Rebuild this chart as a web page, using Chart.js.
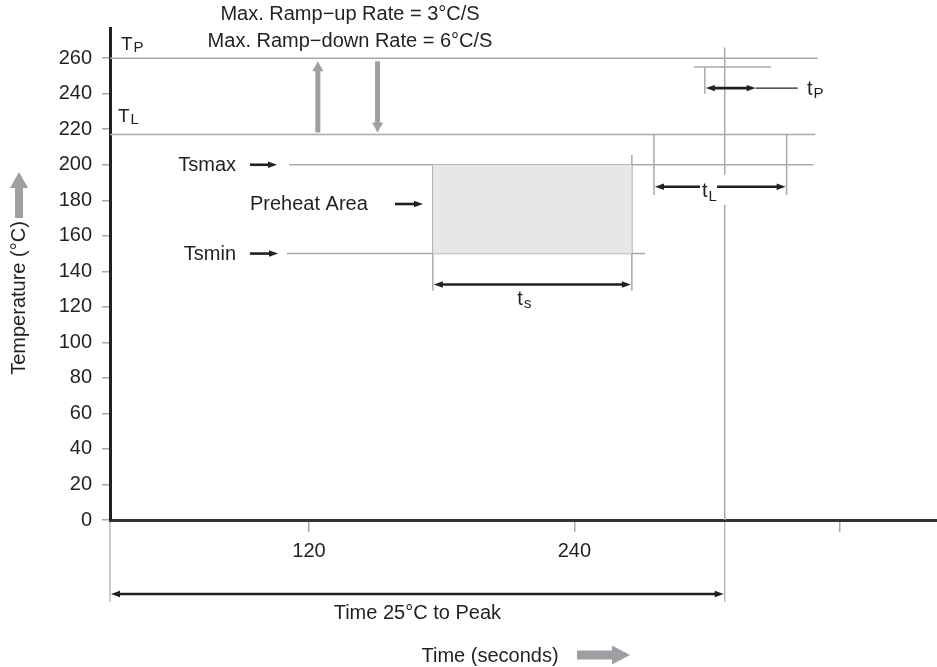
<!DOCTYPE html>
<html><head><meta charset="utf-8">
<script src="https://cdn.jsdelivr.net/npm/chart.js@4.4.1/dist/chart.umd.min.js"></script>
<style>html,body{margin:0;padding:0;background:#fff;}#wrap{width:937px;height:667px;}</style>
</head><body><div id="wrap"><canvas id="c" width="937" height="667"></canvas></div>
<script>
// ---- data ----
const timeTicks = [120, 240, 360];
const timeTickLabels = ['120', '240', ''];
const tempTicks = [0, 20, 40, 60, 80, 100, 120, 140, 160, 180, 200, 220, 240, 260];
const levelNames = ['TP', 'TL', 'Tsmax', 'Tsmin'];
const levelTemps = [260, 217, 200, 150];
const tpBandTemp = 255;
const preheatWindow = [176, 266];   // ts
const liquidusWindow = [276, 336];  // tL
const peakWindow = [299, 322];      // tp
const peakTime = 308;
const startTime = 30;
const endTime = 404;
const tempMax = 277;
const rampRates = [3, 6];

// ---- styling ----
const FONT = '"Liberation Sans", Arial, Helvetica, sans-serif';
const GRAY = '#a7a9ac';
const INK = '#231f20';
const BLOCK = '#9d9fa2';

const [TP, TL, TSMAX, TSMIN] = levelTemps;
function seg(pts, extra) {
  return Object.assign({
    data: pts.map(p => ({x: p[0], y: p[1]})),
    borderColor: GRAY, borderWidth: 1.5, pointRadius: 0, fill: false,
    tension: 0, clip: false
  }, extra || {});
}
const datasets = [
  seg([[preheatWindow[0], TSMAX], [preheatWindow[1], TSMAX]],
      {borderColor: 'rgba(0,0,0,0)', fill: {value: TSMIN}, backgroundColor: '#e6e7e8'}),
  seg([[startTime, TP], [350, TP]]),
  seg([[startTime, TL], [349, TL]]),
  seg([[111, TSMAX], [348, TSMAX]]),
  seg([[110, TSMIN], [272, TSMIN]]),
  seg([[294, tpBandTemp], [329, tpBandTemp]]),
  seg([[preheatWindow[0], TSMAX], [preheatWindow[0], 129]]),
  seg([[preheatWindow[1], 205.5], [preheatWindow[1], 129]]),
  seg([[liquidusWindow[0], TL], [liquidusWindow[0], 183]]),
  seg([[liquidusWindow[1], TL], [liquidusWindow[1], 183]]),
  seg([[peakWindow[0], tpBandTemp], [peakWindow[0], 240]]),
  seg([[peakTime, 266], [peakTime, 0]])
];

// ---- drawing helpers ----
function line(ctx, x1, y1, x2, y2, color, w) {
  ctx.beginPath(); ctx.moveTo(x1, y1); ctx.lineTo(x2, y2);
  ctx.strokeStyle = color; ctx.lineWidth = w; ctx.stroke();
}
function head(ctx, x, y, ang, len, hw, color) {
  ctx.save(); ctx.translate(x, y); ctx.rotate(ang);
  ctx.beginPath(); ctx.moveTo(0, 0); ctx.lineTo(-len, -hw); ctx.lineTo(-len, hw); ctx.closePath();
  ctx.fillStyle = color; ctx.fill(); ctx.restore();
}
function hArrow(ctx, x1, x2, y, leftHead, rightHead) {
  const L = 9, H = 3.2;
  line(ctx, x1 + (leftHead ? L - 1 : 0), y, x2 - (rightHead ? L - 1 : 0), y, INK, 2.6);
  if (leftHead) head(ctx, x1, y, Math.PI, L, H, INK);
  if (rightHead) head(ctx, x2, y, 0, L, H, INK);
}
function blockArrow(ctx, x1, y1, x2, y2, shaft, hw, hl, color) {
  const ang = Math.atan2(y2 - y1, x2 - x1);
  const len = Math.hypot(x2 - x1, y2 - y1);
  ctx.save(); ctx.translate(x1, y1); ctx.rotate(ang);
  ctx.beginPath();
  ctx.moveTo(0, -shaft / 2); ctx.lineTo(len - hl, -shaft / 2); ctx.lineTo(len - hl, -hw / 2);
  ctx.lineTo(len, 0); ctx.lineTo(len - hl, hw / 2); ctx.lineTo(len - hl, shaft / 2); ctx.lineTo(0, shaft / 2);
  ctx.closePath(); ctx.fillStyle = color; ctx.fill(); ctx.restore();
}
function txt(ctx, s, x, y, size, align, base) {
  ctx.font = size + 'px ' + FONT; ctx.fillStyle = INK;
  ctx.textAlign = align || 'left'; ctx.textBaseline = base || 'alphabetic';
  ctx.fillText(s, x, y);
}
function subTxt(ctx, main, sub, x, y, size, subSize, drop) {
  ctx.font = size + 'px ' + FONT; ctx.fillStyle = INK;
  ctx.textAlign = 'left'; ctx.textBaseline = 'alphabetic';
  ctx.fillText(main, x, y);
  const w = ctx.measureText(main).width;
  ctx.font = subSize + 'px ' + FONT;
  ctx.fillText(sub, x + w + 1, y + drop);
  return w + 1 + ctx.measureText(sub).width;
}

const annot = {
  id: 'annot',
  afterDatasetsDraw(chart) {
    const {ctx, scales: {x, y}} = chart;
    const X = v => x.getPixelForValue(v), Y = v => y.getPixelForValue(v);
    const y0 = Y(0);
    ctx.save();

    // below-axis dimension: Time 25°C to Peak
    line(ctx, X(startTime), y0 + 2, X(startTime), y0 + 82, GRAY, 1.2);
    line(ctx, X(peakTime), y0 + 2, X(peakTime), y0 + 82, GRAY, 1.2);
    hArrow(ctx, X(startTime) + 1, X(peakTime) - 1, y0 + 74, true, true);
    txt(ctx, 'Time 25\u00B0C to Peak', (X(startTime) + X(peakTime)) / 2, y0 + 93, 20, 'center', 'middle');

    // axis titles
    txt(ctx, 'Time (seconds)', 490, 656, 20, 'center', 'middle');
    blockArrow(ctx, 577, 655, 630, 655, 9, 19, 18, BLOCK);
    ctx.save(); ctx.translate(19, 298); ctx.rotate(-Math.PI / 2);
    txt(ctx, 'Temperature (\u00B0C)', 0, 0, 20, 'center', 'middle');
    ctx.restore();
    blockArrow(ctx, 19, 218, 19, 172, 8, 18, 16, BLOCK);

    // ramp rate arrows + text
    blockArrow(ctx, X(124), Y(TL) - 2, X(124), Y(TP) + 3, 5, 11, 10, BLOCK);
    blockArrow(ctx, X(151), Y(TP) + 3, X(151), Y(TL) - 2, 5, 11, 10, BLOCK);
    txt(ctx, 'Max. Ramp\u2212up Rate = ' + rampRates[0] + '\u00B0C/S', 350, 20, 20, 'center');
    txt(ctx, 'Max. Ramp\u2212down Rate = ' + rampRates[1] + '\u00B0C/S', 350, 47, 20, 'center');

    // level labels
    subTxt(ctx, 'T', levelNames[0].slice(1), X(startTime) + 11, Y(TP) - 8, 19, 15, 2);
    subTxt(ctx, 'T', levelNames[1].slice(1), X(startTime) + 8, Y(TL) - 13, 19, 15, 2);
    txt(ctx, levelNames[2], 236, Y(TSMAX) + 1, 20, 'right', 'middle');
    hArrow(ctx, 250, 277, Y(TSMAX), false, true);
    txt(ctx, levelNames[3], 236, Y(TSMIN) + 1, 20, 'right', 'middle');
    hArrow(ctx, 250, 278, Y(TSMIN), false, true);
    txt(ctx, 'Preheat Area', 250, 204, 20, 'left', 'middle');
    hArrow(ctx, 395, 423, 204, false, true);

    // ts
    const ts0 = X(preheatWindow[0]), ts1 = X(preheatWindow[1]);
    hArrow(ctx, ts0 + 1, ts1 - 1, Y(TSMIN) + 31, true, true);
    subTxt(ctx, 't', 's', (ts0 + ts1) / 2 - 15, Y(TSMIN) + 51, 20, 15, 3);

    // tL
    const tl0 = X(liquidusWindow[0]), tl1 = X(liquidusWindow[1]);
    const ya = Y(TSMAX) + 22;
    ctx.fillStyle = '#fff'; ctx.fillRect(699, ya - 12, 28, 30);
    hArrow(ctx, tl0 + 1, 700, ya, true, false);
    hArrow(ctx, 717, tl1 - 1, ya, false, true);
    subTxt(ctx, 't', 'L', 702, ya + 10, 20, 15, 4);

    // tp
    const tp0 = X(peakWindow[0]), tp1 = X(peakWindow[1]);
    const yp = Y(tpBandTemp) + 21;
    hArrow(ctx, tp0 + 1, tp1, yp, true, true);
    line(ctx, tp1, yp, X(341), yp, INK, 1.3);
    subTxt(ctx, 't', 'P', 807, yp + 7, 20, 15, 3);

    ctx.restore();
  }
};

new Chart(document.getElementById('c'), {
  type: 'line',
  data: {datasets},
  options: {
    responsive: false, animation: false,
    layout: {padding: {top: 28, right: 0, left: 0, bottom: 0}},
    plugins: {legend: {display: false}, tooltip: {enabled: false}},
    scales: {
      x: {
        type: 'linear', min: startTime, max: endTime,
        afterBuildTicks: s => { s.ticks = timeTicks.map(v => ({value: v})); },
        afterFit: s => { s.height = 147; },
        ticks: {callback: (v, i) => timeTickLabels[i], font: {family: FONT, size: 20}, color: INK, padding: 7, maxRotation: 0, autoSkip: false},
        grid: {drawOnChartArea: false, drawTicks: true, tickLength: 12, color: GRAY, lineWidth: 1.5},
        border: {display: true, color: '#333', width: 3}
      },
      y: {
        type: 'linear', min: 0, max: tempMax,
        afterBuildTicks: s => { s.ticks = tempTicks.map(v => ({value: v})); },
        afterFit: s => { s.width = 110; },
        ticks: {callback: (v, i) => String(tempTicks[i]), font: {family: FONT, size: 20}, color: INK, padding: 10, autoSkip: false},
        grid: {drawOnChartArea: false, drawTicks: true, tickLength: 8, color: GRAY, lineWidth: 1.5},
        border: {display: true, color: INK, width: 3}
      }
    }
  },
  plugins: [annot]
});
</script></body></html>
